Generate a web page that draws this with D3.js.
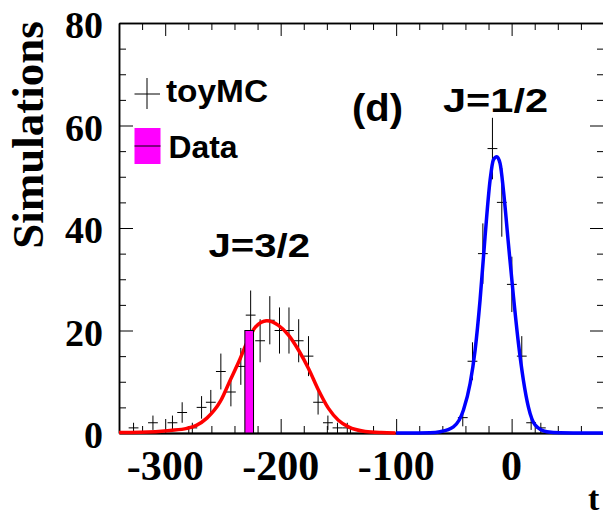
<!DOCTYPE html>
<html>
<head>
<meta charset="utf-8">
<script src="https://cdn.jsdelivr.net/npm/d3@7/dist/d3.min.js"></script>
<style>
  html, body { margin: 0; padding: 0; background: #fff; overflow: hidden; }
  svg { display: block; }
</style>
</head>
<body>
<svg id="chart" width="603" height="519"></svg>
<script>
// ---- data ----
// toyMC histogram, J=3/2 region (bin centers, counts, errors)
const toyX32 = [-327.4, -310.6, -293.7, -285.3, -276.5, -268.5, -260.5, -251.8, -243.1, -234.5, -226.0, -217.8, -209.4, -201.0, -192.8, -184.4, -175.9, -167.6, -159.1, -150.8, -142.3];
const toyY32 = [1, 2, 2, 4, 1, 5, 6, 12, 8, 13, 23, 18, 22, 20, 20, 18, 15, 6, 2, 1, 1];
const toyE32 = [1, 1.4, 1.4, 2, 1, 2.2, 2.4, 3.5, 2.8, 3.6, 4.8, 4.2, 4.7, 4.5, 4.5, 4.2, 3.9, 2.4, 1.4, 1, 1];
// toyMC histogram, J=1/2 region
const toyX12 = [-42.3, -33.9, -24.9, -16.6, -8.5, 0.2, 8.8, 16.9, 25.3];
const toyY12 = [3, 14, 35, 55.5, 45, 29, 15, 2, 1];
const toyE12 = [1.7, 3.7, 5.9, 6.0, 6.7, 5.4, 3.9, 1.4, 1];
// toyMC bin width
const binWidth = 8.5;
// Data bar
const dataLo = -231.0, dataHi = -223.5, dataVal = 20;
// J=3/2 fitted curve
const fit32X = [-340, -321.6, -295.7, -281.2, -273, -263.9, -252.4, -243.7, -235.1, -229.3, -222.1, -212, -201.9, -193.2, -184.6, -175.9, -167.3, -158.6, -150, -141.3, -126.8, -113, -100.5];
const fit32Y = [0.1, 0.15, 0.5, 0.9, 1.5, 2.9, 6.1, 10.3, 14.5, 17.6, 20.6, 21.9, 21.0, 19.1, 16.2, 12.6, 8.4, 4.8, 2.5, 1.2, 0.3, 0.08, 0.02];
// J=1/2 fitted curve
const fit12X = [-100, -85, -70.6, -61.9, -50.4, -41.7, -35.9, -31.6, -27.3, -23, -18.6, -15.8, -12.8, -10, -7.1, -2.8, 1.6, 5.9, 10.2, 14.5, 20.3, 30.5, 42, 60, 80];
const fit12Y = [0, 0.01, 0.05, 0.25, 1.2, 4.5, 9.7, 16.2, 26, 38.3, 49.4, 53.3, 53.9, 52.6, 47.4, 37, 26.6, 17.5, 10.3, 5.1, 1.6, 0.25, 0.03, 0, 0];
// axes
const xMajor = [-300, -200, -100, 0];
const xMinor = [-320, -280, -260, -240, -220, -180, -160, -140, -120, -80, -60, -40, -20, 20, 40, 60];
const xLabels = ["-300", "-200", "-100", "0"];
const yMajor = [0, 20, 40, 60, 80];
const yMinor = [5, 10, 15, 25, 30, 35, 45, 50, 55, 65, 70, 75];
const yLabels = ["0", "20", "40", "60", "80"];

// ---- drawing ----
const svg = d3.select("#chart");
const L = 119, R = 604, T = 23, B = 433;
const x = d3.scaleLinear().domain([-340, 80]).range([L, R]);
const y = d3.scaleLinear().domain([0, 80]).range([B, T]);

svg.append("defs").append("clipPath").attr("id", "clip")
  .append("rect").attr("x", L).attr("y", T - 2).attr("width", R - L).attr("height", B - T + 4);

const serif = "'Liberation Serif', 'Times New Roman', serif";
const sans = "'Liberation Sans', Arial, Helvetica, sans-serif";

function styleAxis(g) {
  g.selectAll("text").remove();
  g.selectAll("path.domain").attr("stroke", "#000").attr("stroke-width", 1.5);
  g.selectAll(".tick line").attr("stroke", "#000").attr("stroke-width", 1);
}
const axes = svg.append("g");
axes.append("g").attr("transform", `translate(0,${B})`)
  .call(d3.axisBottom(x).tickValues(xMajor).tickSize(-14).tickSizeOuter(0).tickFormat("")).call(styleAxis);
axes.append("g").attr("transform", `translate(0,${B})`)
  .call(d3.axisBottom(x).tickValues(xMinor).tickSize(-7).tickSizeOuter(0).tickFormat("")).call(styleAxis)
  .selectAll("path.domain").attr("stroke-width", 2);
axes.append("g").attr("transform", `translate(0,${T})`)
  .call(d3.axisTop(x).tickValues(xMajor).tickSize(-13).tickSizeOuter(0).tickFormat("")).call(styleAxis);
axes.append("g").attr("transform", `translate(0,${T})`)
  .call(d3.axisTop(x).tickValues(xMinor).tickSize(-7).tickSizeOuter(0).tickFormat("")).call(styleAxis);
axes.append("g").attr("transform", `translate(${L},0)`)
  .call(d3.axisLeft(y).tickValues(yMajor).tickSize(-14).tickSizeOuter(0).tickFormat("")).call(styleAxis);
axes.append("g").attr("transform", `translate(${L},0)`)
  .call(d3.axisLeft(y).tickValues(yMinor).tickSize(-7).tickSizeOuter(0).tickFormat("")).call(styleAxis);
axes.append("g").attr("transform", `translate(${R},0)`)
  .call(d3.axisRight(y).tickValues(yMajor).tickSize(-14).tickSizeOuter(0).tickFormat("")).call(styleAxis);
axes.append("g").attr("transform", `translate(${R},0)`)
  .call(d3.axisRight(y).tickValues(yMinor).tickSize(-7).tickSizeOuter(0).tickFormat("")).call(styleAxis);

// tick labels
svg.append("g").selectAll("text").data(xMajor).join("text")
  .attr("x", d => x(d)).attr("y", 480)
  .attr("text-anchor", "middle")
  .attr("font-family", serif).attr("font-weight", "bold").attr("font-size", 42)
  .text((d, i) => xLabels[i]);
svg.append("g").selectAll("text").data(yMajor).join("text")
  .attr("x", 103).attr("y", d => y(d) + 15)
  .attr("text-anchor", "end")
  .attr("font-family", serif).attr("font-weight", "bold").attr("font-size", 38)
  .text((d, i) => yLabels[i]);

// axis titles
svg.append("text")
  .attr("transform", "translate(43,135) rotate(-90)")
  .attr("text-anchor", "middle")
  .attr("font-family", serif).attr("font-weight", "bold").attr("font-size", 45)
  .text("Simulations");
svg.append("text")
  .attr("x", 588).attr("y", 510)
  .attr("font-family", serif).attr("font-weight", "bold").attr("font-size", 34)
  .text("t");

// toyMC error crosses
const plot = svg.append("g").attr("clip-path", "url(#clip)");
const toy = toyX32.map((v, i) => ({ x: v, y: toyY32[i], e: toyE32[i] }))
  .concat(toyX12.map((v, i) => ({ x: v, y: toyY12[i], e: toyE12[i] })));
const cross = plot.append("g").attr("stroke", "#000").attr("stroke-width", 1);
cross.selectAll("line.h").data(toy).join("line").attr("class", "h")
  .attr("x1", d => x(d.x - binWidth / 2)).attr("x2", d => x(d.x + binWidth / 2))
  .attr("y1", d => y(d.y)).attr("y2", d => y(d.y));
cross.selectAll("line.v").data(toy).join("line").attr("class", "v")
  .attr("x1", d => x(d.x)).attr("x2", d => x(d.x))
  .attr("y1", d => y(d.y + d.e)).attr("y2", d => y(Math.max(0, d.y - d.e)));

// fitted curves
const line = d3.line().x(d => x(d[0])).y(d => y(d[1])).curve(d3.curveMonotoneX);
plot.append("path").datum(fit32X.map((v, i) => [v, fit32Y[i]]))
  .attr("d", line).attr("fill", "none").attr("stroke", "#ff0000").attr("stroke-width", 3.5);
plot.append("path").datum(fit12X.map((v, i) => [v, fit12Y[i]]))
  .attr("d", line).attr("fill", "none").attr("stroke", "#0000ff").attr("stroke-width", 3.5);

// data bar
plot.append("rect")
  .attr("x", x(dataLo)).attr("y", y(dataVal))
  .attr("width", x(dataHi) - x(dataLo)).attr("height", y(0) - y(dataVal))
  .attr("fill", "#ff00ff").attr("stroke", "#000").attr("stroke-width", 1);

// labels
function label(txt, xx, yy, size, len) {
  svg.append("text").attr("x", xx).attr("y", yy)
    .attr("font-family", sans).attr("font-weight", "bold").attr("font-size", size)
    .attr("textLength", len).attr("lengthAdjust", "spacingAndGlyphs")
    .text(txt);
}
label("J=1/2", 443, 111.5, 33, 105);
label("J=3/2", 208.5, 256.5, 33, 101.5);
label("(d)", 352, 121, 38, 51);
label("toyMC", 166, 101.5, 31, 102);
label("Data", 168.5, 157.5, 32, 69);

// legend symbols
const leg = svg.append("g");
leg.append("line").attr("x1", 134.5).attr("x2", 160).attr("y1", 94).attr("y2", 94).attr("stroke", "#000").attr("stroke-width", 1);
leg.append("line").attr("x1", 147).attr("x2", 147).attr("y1", 78).attr("y2", 109).attr("stroke", "#000").attr("stroke-width", 1);
leg.append("rect").attr("x", 134.5).attr("y", 128).attr("width", 26).attr("height", 36).attr("fill", "#ff00ff");
leg.append("line").attr("x1", 134.5).attr("x2", 160.5).attr("y1", 146).attr("y2", 146).attr("stroke", "#000").attr("stroke-width", 1);
</script>
</body>
</html>
